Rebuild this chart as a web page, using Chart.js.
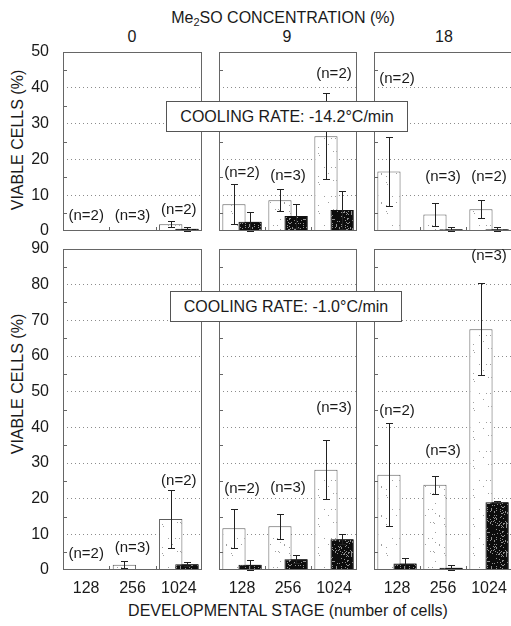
<!DOCTYPE html>
<html>
<head>
<meta charset="utf-8">
<script src="https://cdn.jsdelivr.net/npm/chart.js@4.4.1/dist/chart.umd.min.js"></script>
<style>
body{margin:0;width:511px;height:626px;overflow:hidden;background:#fff;position:relative;
  font-family:"Liberation Sans",Arial,sans-serif;color:#1a1a1a}
.pnl{position:absolute}
.lbl{position:absolute;white-space:nowrap;font-size:16px;transform:translate(-50%,-50%)}
.ytitle{transform:translate(-50%,-50%) rotate(-90deg)}
.rate{position:absolute;z-index:5;background:#fff;border:1px solid #555;box-sizing:border-box;
  font-size:16px;display:flex;align-items:center;justify-content:center;white-space:nowrap}
sub{font-size:11px;vertical-align:-3px;line-height:0}
</style>
</head>
<body>
<div class="lbl" style="left:283px;top:18px">Me<sub>2</sub>SO CONCENTRATION (%)</div>
<div class="lbl" style="left:132px;top:37px">0</div>
<div class="lbl" style="left:287px;top:37px">9</div>
<div class="lbl" style="left:444px;top:37px">18</div>
<div class="lbl ytitle" style="left:18px;top:140px">VIABLE CELLS (%)</div>
<div class="lbl ytitle" style="left:18px;top:384px">VIABLE CELLS (%)</div>
<div class="rate" style="left:166px;top:101px;width:242px;height:31px">COOLING RATE: -14.2°C/min</div>
<div class="rate" style="left:170px;top:291px;width:232px;height:31px">COOLING RATE: -1.0°C/min</div>
<div class="lbl" style="left:288px;top:611px">DEVELOPMENTAL STAGE (number of cells)</div>
<script>
// x categories and column headers
const stages = ['128', '256', '1024'];
const concentrations = ['0', '9', '18'];

// cooling -14.2 C/min, one inner array per Me2SO column (0, 9, 18 %)
const fastLight    = [[0, 0, 1.9], [7.5, 8.6, 26.5], [16.6, 4.6, 6.1]];
const fastLightErr = [[0, 0, 0.9], [5.6, 3.0, 12.0], [9.6, 3.2, 2.5]];
const fastDark     = [[0, 0, 0.6], [2.6, 4.2, 5.9], [0, 0.5, 0.5]];
const fastDarkErr  = [[0, 0, 0.6], [2.6, 3.3, 5.4], [0, 0.7, 0.7]];
const fastN        = [['(n=2)', '(n=3)', '(n=2)'], ['(n=2)', '(n=3)', '(n=2)'], ['(n=2)', '(n=3)', '(n=2)']];
const fastNAt      = [[4.3, 4.3, 5.9], [16.2, 15.3, 44.0], [42.5, 15.0, 15.0]];

// cooling -1.0 C/min
const slowLight    = [[0, 1.5, 14.3], [11.7, 12.3, 28.1], [26.7, 23.9, 67.5]];
const slowLightErr = [[0, 0.9, 8.1], [5.4, 3.5, 8.3], [14.5, 2.5, 12.9]];
const slowDark     = [[0, 0, 1.6], [1.5, 3.0, 8.6], [1.8, 0.6, 19.0]];
const slowDarkErr  = [[0, 0, 0.6], [1.4, 1.1, 1.4], [1.6, 0.7, 0.3]];
const slowN        = [['(n=2)', '(n=3)', '(n=2)'], ['(n=2)', '(n=3)', '(n=3)'], ['(n=2)', '(n=3)', '(n=3)']];
const slowNAt      = [[4.6, 6.3, 25.0], [22.7, 22.9, 45.6], [44.7, 33.5, 88.2]];

const yMax = [50, 90];

// panel frame in page pixels
const colLeft = [63, 219, 374], colRight = [202, 357, 512];
const rowTop = [52, 249], rowBottom = [231, 570];

const FONT = '"Liberation Sans", Arial, sans-serif';
Chart.defaults.font.family = FONT;
Chart.defaults.font.size = 16;
Chart.defaults.color = '#1a1a1a';
Chart.defaults.animation = false;

// stippled fills (fixed speckle texture)
function stipple(bg, dot, count, size, seed){
  const c = document.createElement('canvas'); c.width = c.height = size;
  const g = c.getContext('2d');
  g.fillStyle = bg; g.fillRect(0, 0, size, size);
  g.fillStyle = dot;
  let s = seed;
  for(let k = 0; k < count; k++){
    s = (s * 9301 + 49297) % 233280; const x = Math.floor(s / 233280 * size);
    s = (s * 9301 + 49297) % 233280; const y = Math.floor(s / 233280 * size);
    g.fillRect(x, y, 1, 1);
  }
  return g.createPattern(c, 'repeat');
}
const lightFill = stipple('#ffffff', '#a0a0a0', 14, 29, 11);
const darkFill = stipple('#0d0d0d', '#909090', 110, 29, 5);

const panelPlugin = {
  id: 'panel',
  afterDatasetsDraw(chart, args, opts){
    const ctx = chart.ctx, a = chart.chartArea, ys = chart.scales.y, xs = chart.scales.x;
    // dark bars sit in front of the light ones
    chart.getDatasetMeta(1).controller.draw();
    ctx.save();
    ctx.lineWidth = 1;
    ctx.strokeStyle = '#222';
    chart.data.datasets.forEach((ds, d) => {
      const meta = chart.getDatasetMeta(d);
      ds.errors.forEach((e, i) => {
        const v = ds.data[i];
        if(!e || v == null) return;
        const x = Math.round(meta.data[i].x) + 0.5;
        const top = Math.round(ys.getPixelForValue(v + e)) + 0.5;
        const bot = Math.round(ys.getPixelForValue(Math.max(0, v - e))) + 0.5;
        ctx.beginPath();
        ctx.moveTo(x, top); ctx.lineTo(x, bot);
        ctx.moveTo(x - 3.5, top); ctx.lineTo(x + 3.5, top);
        ctx.moveTo(x - 3.5, bot); ctx.lineTo(x + 3.5, bot);
        ctx.stroke();
      });
    });
    // frame + inner tick marks
    ctx.strokeStyle = '#666';
    ctx.strokeRect(a.left + 0.5, a.top + 0.5, a.right - a.left - 1, a.bottom - a.top - 1);
    ctx.beginPath();
    for(let v = 5; v < ys.max; v += 10){
      const y = Math.round(ys.getPixelForValue(v)) + 0.5;
      ctx.moveTo(a.left, y); ctx.lineTo(a.left + 4, y);
    }
    for(let i = 0; i < stages.length - 1; i++){
      const x = Math.round((xs.getPixelForValue(i) + xs.getPixelForValue(i + 1)) / 2) + 0.5;
      ctx.moveTo(x, a.bottom); ctx.lineTo(x, a.bottom - 4);
    }
    ctx.stroke();
    // (n=..) labels
    ctx.fillStyle = '#1a1a1a';
    ctx.font = '15px ' + FONT;
    ctx.textAlign = 'center';
    ctx.textBaseline = 'middle';
    opts.text.forEach((t, i) => ctx.fillText(t, xs.getPixelForValue(i), ys.getPixelForValue(opts.at[i])));
    ctx.restore();
  }
};

function makePanel(r, c){
  const light = (r === 0 ? fastLight : slowLight)[c];
  const lightErr = (r === 0 ? fastLightErr : slowLightErr)[c];
  const dark = (r === 0 ? fastDark : slowDark)[c];
  const darkErr = (r === 0 ? fastDarkErr : slowDarkErr)[c];
  const nText = (r === 0 ? fastN : slowN)[c];
  const nAt = (r === 0 ? fastNAt : slowNAt)[c];
  const max = yMax[r];

  const L = c === 0 ? 63 : 5, T = 10, R = 6, B = r === 1 ? 40 : 10;
  const w = L + (colRight[c] - colLeft[c]) + R;
  const h = T + (rowBottom[r] - rowTop[r]) + B;
  const wrap = document.createElement('div');
  wrap.className = 'pnl';
  wrap.style.left = (colLeft[c] - L) + 'px';
  wrap.style.top = (rowTop[r] - T) + 'px';
  const cv = document.createElement('canvas');
  cv.width = w; cv.height = h;
  cv.style.width = w + 'px'; cv.style.height = h + 'px';
  wrap.appendChild(cv);
  document.body.appendChild(wrap);

  new Chart(cv, {
    type: 'bar',
    data: {
      labels: stages,
      datasets: [
        {data: light.map(v => v || null), errors: lightErr, backgroundColor: lightFill,
         borderColor: '#5c5c5c', borderWidth: 1},
        {data: dark.map(v => v || null), errors: darkErr, backgroundColor: darkFill,
         borderColor: '#111', borderWidth: 1}
      ]
    },
    options: {
      responsive: false,
      layout: {padding: {top: T, right: R, left: 0, bottom: 0}},
      datasets: {bar: {categoryPercentage: 0.70, barPercentage: 1.44}},
      plugins: {legend: {display: false}, tooltip: {enabled: false},
        panel: {text: nText, at: nAt}},
      scales: {
        x: {
          type: 'category', offset: true,
          grid: {display: false, drawTicks: false}, border: {display: false},
          ticks: {display: r === 1, padding: 9, font: {size: 16}, maxRotation: 0, autoSkip: false},
          afterFit: s => { s.height = B; s.paddingLeft = 0; s.paddingRight = 0; }
        },
        y: {
          min: 0, max: max,
          grid: {drawTicks: false, lineWidth: 1,
            color: ctx => (ctx.tick && ctx.tick.value % 10 === 0 && ctx.tick.value > 0 && ctx.tick.value < max) ? '#8c8c8c' : 'rgba(0,0,0,0)'},
          border: {display: false, dash: [1, 3]},
          ticks: {display: c === 0, stepSize: 5, autoSkip: false, padding: 14,
            callback: v => v % 10 === 0 ? v : ''},
          afterFit: s => { s.width = L; s.paddingTop = 0; s.paddingBottom = 0; }
        }
      }
    },
    plugins: [panelPlugin]
  });
}

for(let r = 0; r < 2; r++) for(let c = 0; c < concentrations.length; c++) makePanel(r, c);
</script>
</body>
</html>
